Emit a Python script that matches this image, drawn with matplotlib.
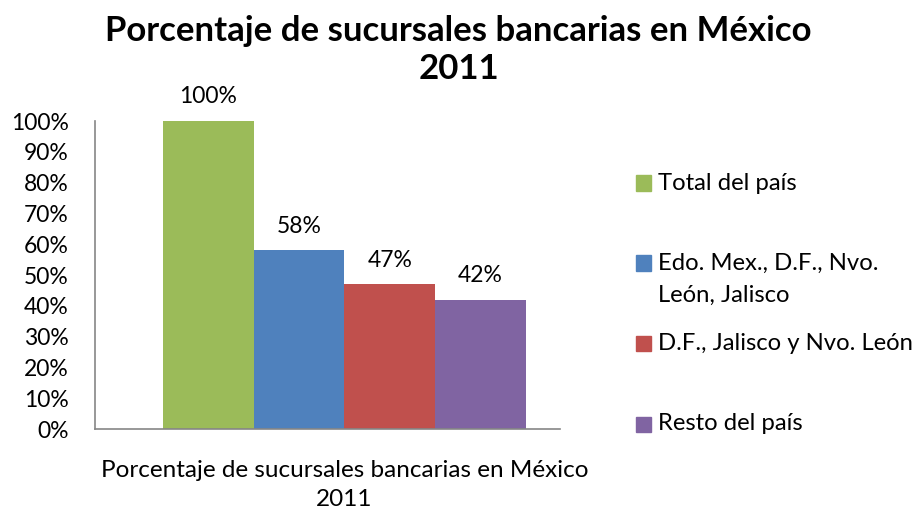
import matplotlib
matplotlib.use("Agg")
import matplotlib.pyplot as plt
from matplotlib.patches import Rectangle

plt.rcParams['font.family'] = ['Lato', 'DejaVu Sans']

categories = ["Total del país", "Edo. Mex., D.F., Nvo.\nLeón, Jalisco",
              "D.F., Jalisco y Nvo. León", "Resto del país"]
values = [100, 58, 47, 42]
colors = ["#9BBB59", "#4F81BD", "#C0504D", "#8064A2"]
yticks = list(range(0, 101, 10))
title = "Porcentaje de sucursales bancarias en México\n2011"
xlabel = "Porcentaje de sucursales bancarias en México\n2011"

W, H = 917, 516
fig = plt.figure(figsize=(W/100, H/100), dpi=100)
ax = fig.add_axes([95/W, 87/H, (560-95)/W, (429-121)/H])

xs = list(range(len(values)))
bars = ax.bar(xs, values, width=1.0, color=colors)
for x, v in zip(xs, values):
    ax.annotate(f"{v}%", (x, v), xytext=(0, 17.3), textcoords="offset points",
                ha="center", va="center", fontsize=16.5)

ax.set_ylim(0, 100)
ax.set_xlim(-1.247, 3.874)
ax.set_yticks(yticks)
ax.set_yticklabels([f"{t}%" for t in yticks], fontsize=16.5)
ax.set_xticks([1.5])
ax.set_xticklabels([xlabel], fontsize=17.5, linespacing=1.5)
ax.tick_params(axis='y', length=0, pad=19)
ax.tick_params(axis='x', length=0, pad=22)
for s in ["top", "right"]:
    ax.spines[s].set_visible(False)
for s in ["left", "bottom"]:
    ax.spines[s].set_color("#868686")
    ax.spines[s].set_linewidth(1.2)

fig.text(0.5, 1 - 50/H, title, ha="center", va="center", fontsize=25,
         fontweight="bold", linespacing=1.26)

# legend drawn manually to match the irregular spacing of the reference
leg_rows = [183, 263, 343, 424]
line_gap = 32
for lab, col, yc in zip(categories, colors, leg_rows):
    fig.patches.append(Rectangle((636/W, 1 - (yc + 7.5)/H), 15/W, 15/H,
                                 transform=fig.transFigure, color=col))
    for i, line in enumerate(lab.split("\n")):
        fig.text(658/W, 1 - (yc + i*line_gap)/H, line, ha="left", va="center",
                 fontsize=17.2)

fig.savefig("out.png", dpi=100)
